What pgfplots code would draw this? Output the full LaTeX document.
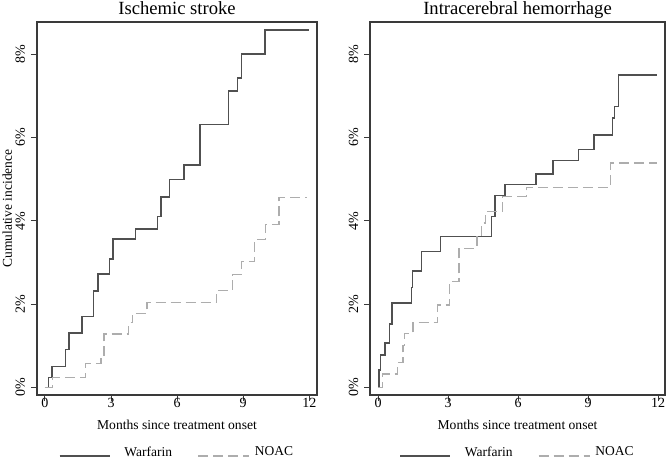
\documentclass[border=0pt]{standalone}
\usepackage{pgfplots}
\pgfplotsset{compat=1.18}
\usepackage{fontspec}
\setmainfont{Liberation Serif}
\definecolor{warf}{HTML}{505050}
\definecolor{noac}{HTML}{ADADAD}
\definecolor{frame}{HTML}{3A3A3A}
\pgfplotsset{
  kmstyle/.style={
    scale only axis,
    height=373pt,
    ymin=-0.185, ymax=8.78,
    axis line style={frame, line width=1.3pt},
    tick style={frame, line width=1pt},
    tick align=outside,
    major tick length=6pt,
    xtick={0,3,6,9,12},
    xticklabels={0,3,6,9,12},
    ytick={0,2,4,6,8},
    yticklabels={0\%,2\%,4\%,6\%,8\%},
    xtick pos=bottom, ytick pos=left,
    /pgf/number format/assume math mode=true,
    ticklabel style={font=\fontsize{14}{16}\selectfont},
    yticklabel style={xshift=-6pt, rotate=90, anchor=base},
    xticklabel style={anchor=base, yshift=-6pt},
    xlabel={Months since treatment onset},
    xlabel style={font=\fontsize{13.6}{16}\selectfont, at={(axis description cs:0.5,-0.0912)}, anchor=base},
    title style={font=\fontsize{18.6}{22}\selectfont, at={(axis description cs:0.5,1)}, anchor=base, yshift=1pt},
    legend style={draw=none, fill=none, legend columns=2,
      at={(axis description cs:0.5,-0.1528)}, anchor=center,
      font=\fontsize{13.5}{16}\selectfont,
      /tikz/every even column/.append style={column sep=0pt},
      /tikz/every odd column/.append style={column sep=0pt}},
    legend image code/.code={\draw[#1] (0pt,-4pt) -- (50pt,-4pt);},
    wline/.style={const plot, no marks, color=warf, line width=1.5pt},
    nline/.style={const plot, no marks, color=noac, line width=1.3pt, dash pattern=on 10pt off 5pt,
      legend image code/.code={\path[draw=none] (0pt,-4pt) -- (24pt,-4pt); \draw[##1] (24pt,-4pt) -- (75pt,-4pt);}},
  }
}
\begin{document}
\begin{tikzpicture}
\begin{axis}[kmstyle, at={(37pt,63pt)}, anchor=south west, width=280pt,
  xmin=-0.363, xmax=12.35,
  title={Ischemic stroke},
  ylabel={Cumulative incidence},
  ylabel style={font=\fontsize{13.5}{16}\selectfont, at={(axis description cs:-0.0893,0.5)}, anchor=base}]
\addplot[wline] coordinates {(0,0) (0.17,0.24) (0.32,0.50) (0.92,0.91) (1.10,1.31) (1.69,1.70) (2.21,2.32) (2.40,2.72) (2.92,3.08) (3.09,3.56) (4.11,3.81) (5.11,4.10) (5.26,4.57) (5.66,5.00) (6.31,5.34) (7.03,6.32) (8.33,7.12) (8.74,7.43) (8.92,8.01) (10.0,8.59) (12.0,8.59)};
\addlegendentry{\hspace*{12pt}Warfarin}
\addplot[nline] coordinates {(0,0) (0.33,0.24) (1.83,0.58) (2.54,0.76) (2.68,1.28) (3.80,1.55) (3.98,1.78) (4.63,2.03) (7.80,2.32) (8.52,2.71) (8.92,3.03) (9.50,3.55) (10.0,3.92) (10.63,4.56) (11.9,4.56)};
\addlegendentry{\hspace*{3pt}NOAC}
\end{axis}
\begin{axis}[kmstyle, at={(370pt,63pt)}, anchor=south west, width=295pt,
  xmin=-0.343, xmax=12.30,
  title={Intracerebral hemorrhage}]
\addplot[wline] coordinates {(0,0) (0.04,0.42) (0.11,0.78) (0.31,1.07) (0.50,1.52) (0.60,2.03) (1.44,2.40) (1.47,2.80) (1.86,3.27) (2.67,3.62) (4.87,4.10) (5.01,4.61) (5.44,4.87) (6.77,5.13) (7.51,5.45) (8.59,5.72) (9.25,6.07) (10.04,6.47) (10.13,6.75) (10.30,7.51) (11.97,7.51)};
\addlegendentry{\hspace*{12pt}Warfarin}
\addplot[nline] coordinates {(0,0) (0.20,0.32) (0.83,0.60) (1.07,1.00) (1.14,1.30) (1.50,1.55) (2.56,1.98) (3.07,2.55) (3.47,3.34) (4.24,3.65) (4.45,3.95) (4.62,4.22) (5.35,4.58) (6.35,4.81) (9.97,5.39) (11.97,5.39)};
\addlegendentry{\hspace*{3pt}NOAC}
\end{axis}
\pgfresetboundingbox
\path[use as bounding box] (0pt,0pt) rectangle (666pt,458pt);
\end{tikzpicture}
\end{document}
